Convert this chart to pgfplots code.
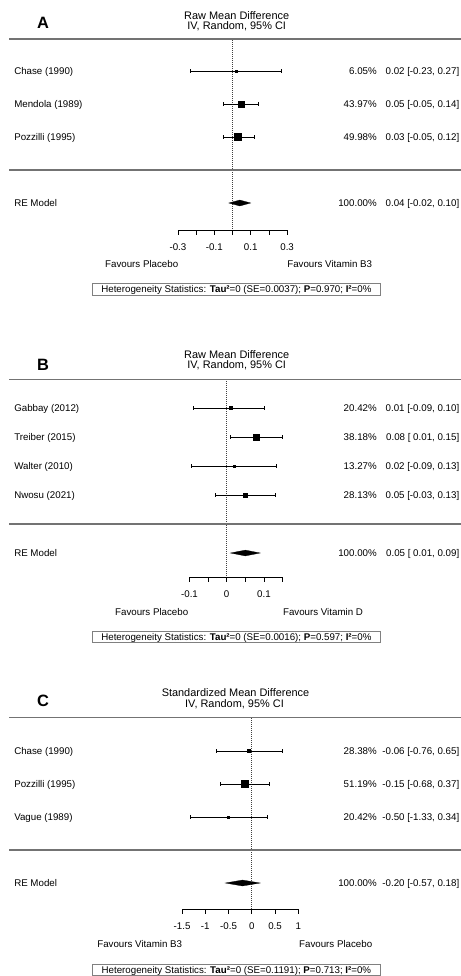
\documentclass[border=0pt]{standalone}
\usepackage{pgfplots}
\pgfplotsset{compat=1.18}
\usepackage{pgfplotstable}
\usepackage{fontspec}
\setmainfont{Liberation Sans}
\newcommand\bodyf{\fontsize{7.3}{8.8}\selectfont}
\newcommand\titlef{\fontsize{8.2}{9.8}\selectfont}
\newcommand\letterf{\fontsize{12.3}{14}\selectfont\bfseries}

% row  estimate  lower  upper  half-size of square (pt)
\pgfplotstableread{
row est lo hi sz
3 0.02 -0.23 0.27 0.85
2 0.05 -0.05 0.14 2.25
1 0.03 -0.05 0.12 2.45
}\tabA
\pgfplotstableread{
row est lo hi sz
4 0.01 -0.09 0.10 1.2
3 0.08 0.01 0.15 2.25
2 0.02 -0.094 0.134 0.85
1 0.05 -0.03 0.13 1.6
}\tabB
\pgfplotstableread{
row est lo hi sz
3 -0.06 -0.76 0.65 1.2
2 -0.15 -0.68 0.37 2.45
1 -0.50 -1.33 0.34 0.85
}\tabC

\tikzset{
 rule/.style={draw=black!55, line width=0.9pt},
 zeroline/.style={densely dotted, black!75, line width=0.5pt},
 axisline/.style={black, line width=0.55pt},
 hbox/.style={draw=black!50, line width=0.5pt},
}
\pgfplotsset{
 forest/.style={axis lines=none, clip=false, anchor=origin, enlargelimits=false,
   xtick=\empty, ytick=\empty},
}
\newcommand\studies[1]{%
 \addplot[scatter, only marks, mark=square*,
   scatter/use mapped color={draw=black, fill=black},
   visualization depends on={\thisrow{sz}\as\msz},
   scatter/@pre marker code/.append style={/tikz/mark size=\msz pt},
   error bars/.cd, x dir=both, x explicit, error mark=none,
   error bar style={black, line width=0.55pt}]
   table[x=est, y=row,
     x error plus expr=\thisrow{hi}-\thisrow{est},
     x error minus expr=\thisrow{est}-\thisrow{lo}]{#1};
 \addplot[only marks, mark=|, mark size=1.3pt, black, mark options={line width=0.5pt}]
   table[x=lo, y=row]{#1};
 \addplot[only marks, mark=|, mark size=1.3pt, black, mark options={line width=0.5pt}]
   table[x=hi, y=row]{#1};
}

\begin{document}
\begin{tikzpicture}[every node/.style={inner sep=0pt}]
% ---------------- Panel A ----------------
\begin{axis}[forest, at={(174.375pt,-127.5pt)}, x=136.5pt, y=24.75pt,
  xmin=-1.2775, xmax=1.2555, ymin=-1.818, ymax=4]
 \draw[zeroline] (axis cs:0,4) -- (axis cs:0,-1.818);
 \studies{\tabA}
 \addplot[fill=black, draw=black, line width=0.2pt] coordinates
   {(-0.02,-1) (0.04,-0.91) (0.10,-1) (0.04,-1.09)} -- cycle;
 \draw[axisline] (axis cs:-0.3,-1.818) -- (axis cs:0.3,-1.818);
 \pgfplotsinvokeforeach{-0.3,-0.2,-0.1,0,0.1,0.2,0.3}{\draw[axisline] (axis cs:#1,-1.818) -- ++(0pt,-3.75pt);}
 \pgfplotsinvokeforeach{-0.3,-0.1,0.1,0.3}{\node[anchor=base, font=\bodyf, yshift=-15pt] at (axis cs:#1,-1.818) {#1};}
\end{axis}
% ---------------- Panel B ----------------
\begin{axis}[forest, at={(170.025pt,-393pt)}, x=279pt, y=21.75pt,
  xmin=-0.6094, xmax=0.6298, ymin=-1.838, ymax=5]
 \draw[zeroline] (axis cs:0,5) -- (axis cs:0,-1.838);
 \studies{\tabB}
 \addplot[fill=black, draw=black, line width=0.2pt] coordinates
   {(0.01,-1) (0.05,-0.9) (0.09,-1) (0.05,-1.1)} -- cycle;
 \draw[axisline] (axis cs:-0.1,-1.838) -- (axis cs:0.15,-1.838);
 \pgfplotsinvokeforeach{-0.1,-0.05,0,0.05,0.1,0.15}{\draw[axisline] (axis cs:#1,-1.838) -- ++(0pt,-3.75pt);}
 \pgfplotsinvokeforeach{-0.1,0,0.1}{\node[anchor=base, font=\bodyf, yshift=-15pt] at (axis cs:#1,-1.838) {#1};}
\end{axis}
% ---------------- Panel C ----------------
\begin{axis}[forest, at={(188.85pt,-637.5pt)}, x=34.875pt, y=24.75pt,
  xmin=-5.415, xmax=4.499, ymin=-1.797, ymax=4]
 \draw[zeroline] (axis cs:0,4) -- (axis cs:0,-1.797);
 \studies{\tabC}
 \addplot[fill=black, draw=black, line width=0.2pt] coordinates
   {(-0.57,-1) (-0.20,-0.91) (0.18,-1) (-0.20,-1.09)} -- cycle;
 \draw[axisline] (axis cs:-1.5,-1.797) -- (axis cs:1,-1.797);
 \pgfplotsinvokeforeach{-1.5,-1,-0.5,0,0.5,1}{\draw[axisline] (axis cs:#1,-1.797) -- ++(0pt,-3.75pt);}
 \pgfplotsinvokeforeach{-1.5,-1,-0.5,0,0.5,1}{\node[anchor=base, font=\bodyf, yshift=-15pt] at (axis cs:#1,-1.797) {#1};}
\end{axis}

\begin{scope}[x=0.75pt, y=-0.75pt]
\path[use as bounding box] (0,0) rectangle (461,976);
% ===== A =====
\node[anchor=base, font=\letterf] at (43,28) {A};
\node[anchor=base, font=\titlef] at (236.7,19) {Raw Mean Difference};
\node[anchor=base, font=\titlef] at (236.7,29) {IV, Random, 95\% CI};
\draw[rule] (9,39) -- (461,39);
\draw[rule] (9,170) -- (461,170);
\begin{scope}[every node/.style={font=\bodyf, inner sep=0pt}]
\node[anchor=base west] at (14,74.5) {Chase (1990)};
\node[anchor=base west] at (14,107.5) {Mendola (1989)};
\node[anchor=base west] at (14,140.5) {Pozzilli (1995)};
\node[anchor=base west] at (14,206.5) {RE Model};
\node[anchor=base east] at (377,74.5) {6.05\%};
\node[anchor=base east] at (377,107.5) {43.97\%};
\node[anchor=base east] at (377,140.5) {49.98\%};
\node[anchor=base east] at (377,206.5) {100.00\%};
\node[anchor=base east] at (459.5,74.5) {0.02 [-0.23, 0.27]};
\node[anchor=base east] at (459.5,107.5) {0.05 [-0.05, 0.14]};
\node[anchor=base east] at (459.5,140.5) {0.03 [-0.05, 0.12]};
\node[anchor=base east] at (459.5,206.5) {0.04 [-0.02, 0.10]};
\node[anchor=base] at (141.7,267.5) {Favours Placebo};
\node[anchor=base] at (329.7,267.5) {Favours Vitamin B3};
\draw[hbox] (92.7,283.3) rectangle (380,295);
\node[anchor=base] at (236.4,292.6) {Heterogeneity Statistics: \textbf{Tau²}=0 (SE=0.0037); \textbf{P}=0.970; \textbf{I²}=0\%};
\end{scope}
% ===== B =====
\node[anchor=base, font=\letterf] at (43,370) {B};
\node[anchor=base, font=\titlef] at (236.7,358.3) {Raw Mean Difference};
\node[anchor=base, font=\titlef] at (236.7,368.3) {IV, Random, 95\% CI};
\draw[rule] (9,379.3) -- (461,379.3);
\draw[rule] (9,524) -- (461,524);
\begin{scope}[every node/.style={font=\bodyf, inner sep=0pt}]
\node[anchor=base west] at (14,411.5) {Gabbay (2012)};
\node[anchor=base west] at (14,440.5) {Treiber (2015)};
\node[anchor=base west] at (14,469.5) {Walter (2010)};
\node[anchor=base west] at (14,498.5) {Nwosu (2021)};
\node[anchor=base west] at (14,556.5) {RE Model};
\node[anchor=base east] at (377,411.5) {20.42\%};
\node[anchor=base east] at (377,440.5) {38.18\%};
\node[anchor=base east] at (377,469.5) {13.27\%};
\node[anchor=base east] at (377,498.5) {28.13\%};
\node[anchor=base east] at (377,556.5) {100.00\%};
\node[anchor=base east] at (459.5,411.5) {0.01 [-0.09, 0.10]};
\node[anchor=base east] at (459.5,440.5) {0.08 [ 0.01, 0.15]};
\node[anchor=base east] at (459.5,469.5) {0.02 [-0.09, 0.13]};
\node[anchor=base east] at (459.5,498.5) {0.05 [-0.03, 0.13]};
\node[anchor=base east] at (459.5,556.5) {0.05 [ 0.01, 0.09]};
\node[anchor=base] at (151.7,615.2) {Favours Placebo};
\node[anchor=base] at (323,615.2) {Favours Vitamin D};
\draw[hbox] (92.7,631.7) rectangle (380,642.7);
\node[anchor=base] at (236.4,640.7) {Heterogeneity Statistics: \textbf{Tau²}=0 (SE=0.0016); \textbf{P}=0.597; \textbf{I²}=0\%};
\end{scope}
% ===== C =====
\node[anchor=base, font=\letterf] at (43,706.7) {C};
\node[anchor=base, font=\titlef] at (235.5,696.7) {Standardized Mean Difference};
\node[anchor=base, font=\titlef] at (234.5,707.7) {IV, Random, 95\% CI};
\draw[rule] (9,717.7) -- (461,717.7);
\draw[rule] (9,850) -- (461,850);
\begin{scope}[every node/.style={font=\bodyf, inner sep=0pt}]
\node[anchor=base west] at (14,754.5) {Chase (1990)};
\node[anchor=base west] at (14,787.5) {Pozzilli (1995)};
\node[anchor=base west] at (14,820.5) {Vague (1989)};
\node[anchor=base west] at (14,886.5) {RE Model};
\node[anchor=base east] at (377,754.5) {28.38\%};
\node[anchor=base east] at (377,787.5) {51.19\%};
\node[anchor=base east] at (377,820.5) {20.42\%};
\node[anchor=base east] at (377,886.5) {100.00\%};
\node[anchor=base east] at (459.5,754.5) {-0.06 [-0.76, 0.65]};
\node[anchor=base east] at (459.5,787.5) {-0.15 [-0.68, 0.37]};
\node[anchor=base east] at (459.5,820.5) {-0.50 [-1.33, 0.34]};
\node[anchor=base east] at (459.5,886.5) {-0.20 [-0.57, 0.18]};
\node[anchor=base] at (139.7,947.5) {Favours Vitamin B3};
\node[anchor=base] at (335.7,947.5) {Favours Placebo};
\draw[hbox] (92.7,964.3) rectangle (380,975);
\node[anchor=base] at (236.4,973.2) {Heterogeneity Statistics: \textbf{Tau²}=0 (SE=0.1191); \textbf{P}=0.713; \textbf{I²}=0\%};
\end{scope}
\end{scope}
\end{tikzpicture}
\end{document}
